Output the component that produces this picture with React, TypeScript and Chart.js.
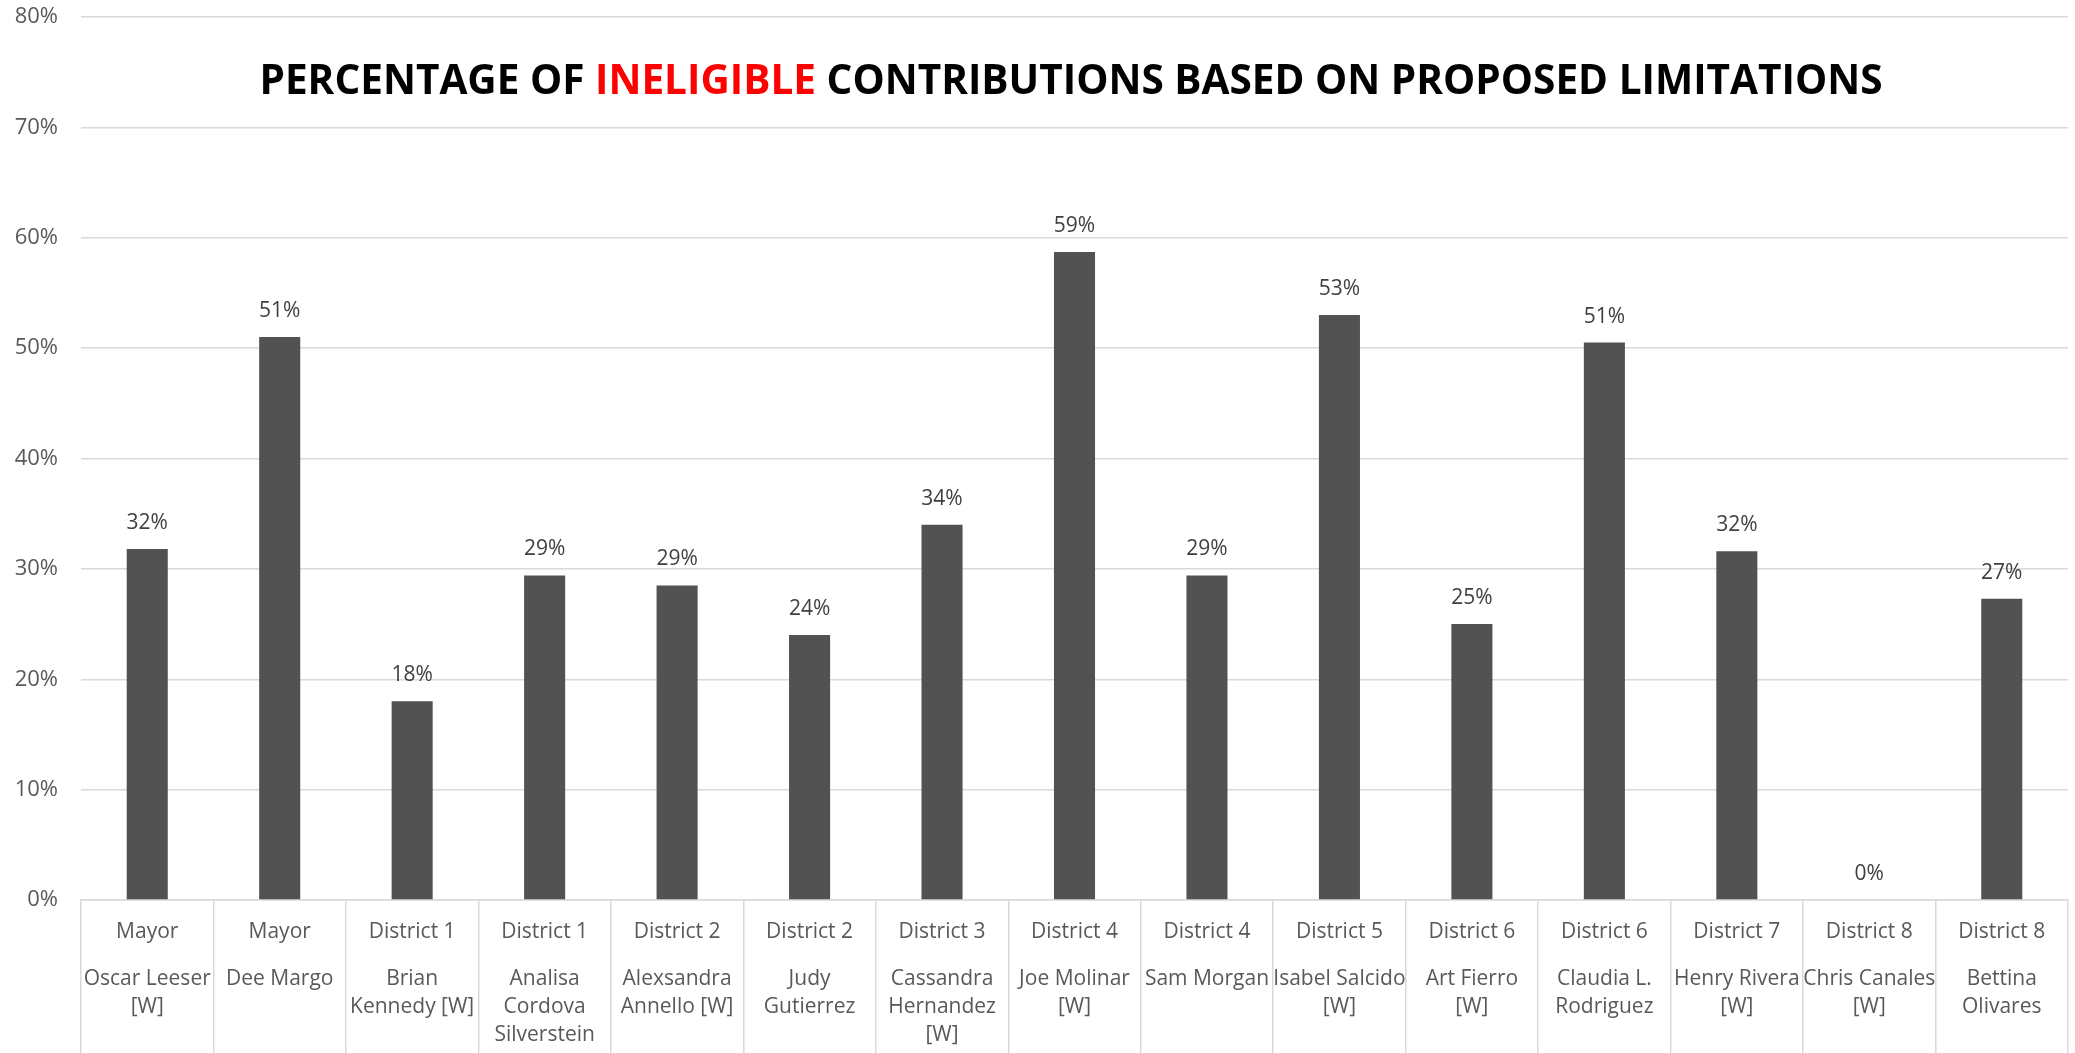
import React, { useEffect, useRef } from "react";
import { Chart, registerables } from "chart.js";

Chart.register(...registerables);

const districts = [
  "Mayor", "Mayor", "District 1", "District 1", "District 2", "District 2",
  "District 3", "District 4", "District 4", "District 5", "District 6",
  "District 6", "District 7", "District 8", "District 8",
];

const candidates = [
  ["Oscar Leeser", "[W]"],
  ["Dee Margo"],
  ["Brian", "Kennedy [W]"],
  ["Analisa", "Cordova", "Silverstein"],
  ["Alexsandra", "Annello [W]"],
  ["Judy", "Gutierrez"],
  ["Cassandra", "Hernandez", "[W]"],
  ["Joe Molinar", "[W]"],
  ["Sam Morgan"],
  ["Isabel Salcido", "[W]"],
  ["Art Fierro", "[W]"],
  ["Claudia L.", "Rodriguez"],
  ["Henry Rivera", "[W]"],
  ["Chris Canales", "[W]"],
  ["Bettina", "Olivares"],
];

const ineligiblePct = [31.8, 51.0, 18.0, 29.4, 28.5, 24.0, 34.0, 58.7, 29.4, 53.0, 25.0, 50.5, 31.6, 0, 27.3];

const yMax = 80;
const yStep = 10;

const titleParts = [
  { text: "PERCENTAGE OF ", color: "#000000" },
  { text: "INELIGIBLE", color: "#ff0000" },
  { text: " CONTRIBUTIONS BASED ON PROPOSED LIMITATIONS", color: "#000000" },
];

const FONT = '"Open Sans", "Noto Sans", sans-serif';

const titlePlugin = {
  id: "mixedTitle",
  afterDraw(chart: any) {
    const ctx = chart.ctx;
    const targetWidth = 1624;
    ctx.save();
    ctx.font = `bold 36px ${FONT}`;
    let w = 0;
    titleParts.forEach((p) => (w += ctx.measureText(p.text).width));
    const size = (36 * targetWidth) / w;
    ctx.font = `bold ${size}px ${FONT}`;
    let total = 0;
    titleParts.forEach((p) => (total += ctx.measureText(p.text).width));
    let x = 1071 - total / 2;
    ctx.textBaseline = "alphabetic";
    ctx.textAlign = "left";
    titleParts.forEach((p) => {
      ctx.fillStyle = p.color;
      ctx.fillText(p.text, x, 94);
      x += ctx.measureText(p.text).width;
    });
    ctx.restore();
  },
};

const dataLabelPlugin = {
  id: "barValueLabels",
  afterDatasetsDraw(chart: any) {
    const ctx = chart.ctx;
    const meta = chart.getDatasetMeta(0);
    const values = chart.data.datasets[0].data as number[];
    ctx.save();
    ctx.font = `21px ${FONT}`;
    ctx.fillStyle = "#404040";
    ctx.textAlign = "center";
    ctx.textBaseline = "middle";
    meta.data.forEach((bar: any, i: number) => {
      ctx.fillText(`${Math.round(values[i])}%`, bar.x, bar.y - 26);
    });
    ctx.restore();
  },
};

export default function App() {
  const ref = useRef<HTMLCanvasElement>(null);

  useEffect(() => {
    document.body.style.margin = "0";
    document.body.style.overflow = "hidden";
    const gridColor = "#d9d9d9";
    const chart = new Chart(ref.current as HTMLCanvasElement, {
      type: "bar",
      data: {
        labels: districts,
        datasets: [
          {
            data: ineligiblePct,
            backgroundColor: "#525252",
            borderWidth: 0,
            categoryPercentage: 1,
            barPercentage: 0.31,
          },
        ],
      },
      options: {
        responsive: false,
        animation: false,
        layout: { padding: { top: 17, right: 7, left: 0, bottom: 0 } },
        plugins: {
          legend: { display: false },
          title: { display: false },
          tooltip: { enabled: false },
        },
        scales: {
          x: {
            type: "category",
            position: "bottom",
            weight: 0,
            offset: true,
            grid: {
              offset: true,
              drawOnChartArea: false,
              drawTicks: true,
              tickLength: 45,
              color: gridColor,
              lineWidth: 1.5,
            },
            border: { display: true, color: gridColor, width: 1.5 },
            ticks: {
              color: "#595959",
              font: { family: FONT, size: 21 },
              padding: -26,
              maxRotation: 0,
              minRotation: 0,
              autoSkip: false,
            },
            afterFit: (s: any) => {
              s.height = 45;
            },
          },
          x2: {
            type: "category",
            labels: candidates as any,
            position: "bottom",
            weight: 1,
            offset: true,
            grid: {
              offset: true,
              drawOnChartArea: false,
              drawTicks: true,
              tickLength: 108,
              color: gridColor,
              lineWidth: 1.5,
            },
            border: { display: false },
            ticks: {
              color: "#595959",
              font: { family: FONT, size: 21, lineHeight: "28px" },
              padding: -88,
              maxRotation: 0,
              minRotation: 0,
              autoSkip: false,
            },
            afterFit: (s: any) => {
              s.height = 108;
            },
          },
          y: {
            min: 0,
            max: yMax,
            ticks: {
              stepSize: yStep,
              callback: (v: any) => `${v}%`,
              color: "#595959",
              font: { family: FONT, size: 22 },
              padding: 23,
            },
            grid: { color: gridColor, lineWidth: 1.5, drawTicks: false },
            border: { display: false },
            afterFit: (s: any) => {
              s.width = 81;
              s.paddingTop = 0;
              s.paddingBottom = 0;
            },
          },
        },
      } as any,
      plugins: [titlePlugin, dataLabelPlugin],
    });
    return () => chart.destroy();
  }, []);

  return (
    <div style={{ width: 2075, height: 1053, background: "#ffffff" }}>
      <canvas ref={ref} width={2075} height={1053} style={{ display: "block" }} />
    </div>
  );
}
